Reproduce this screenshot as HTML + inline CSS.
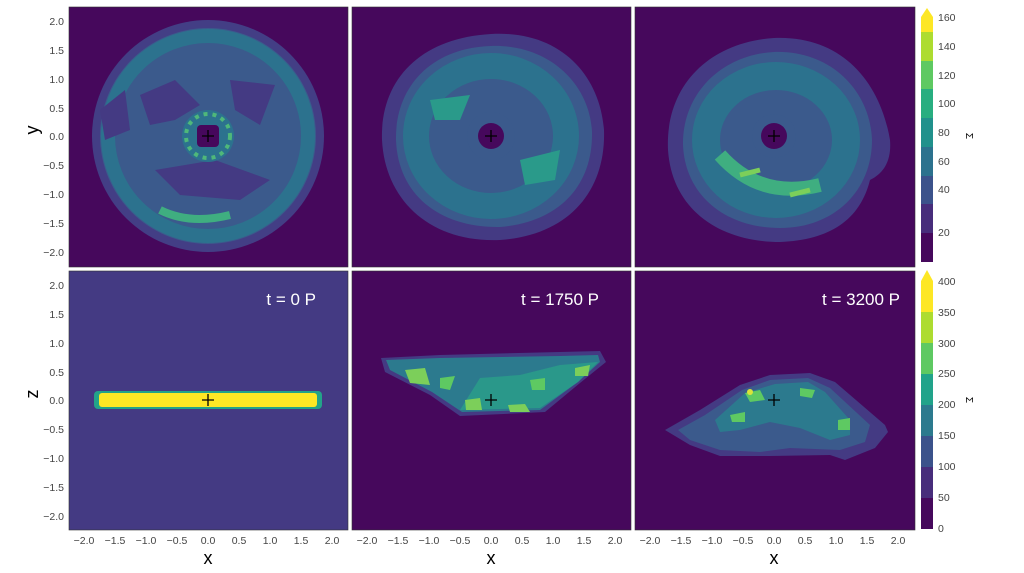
<!DOCTYPE html>
<html><head><meta charset="utf-8"><style>
html,body{margin:0;padding:0;background:#fff;width:1024px;height:573px;overflow:hidden}
svg{display:block}
text{font-family:"Liberation Sans",sans-serif}
.t{font-size:10.5px;fill:#444}
</style></head><body>
<svg width="1024" height="573" viewBox="0 0 1024 573">
<rect x="69" y="7" width="279" height="260" fill="#46085c"/>
<rect x="352" y="7" width="279" height="260" fill="#46085c"/>
<rect x="635" y="7" width="280" height="260" fill="#46085c"/>
<rect x="69" y="271" width="279" height="259" fill="#443a83"/>
<rect x="352" y="271" width="279" height="259" fill="#46085c"/>
<rect x="635" y="271" width="280" height="259" fill="#46085c"/>

<!-- top 1 -->
<circle cx="208" cy="136" r="116" fill="#433e85"/>
<circle cx="208" cy="136" r="108" fill="#3b5a8c"/>
<circle cx="208" cy="136" r="100" fill="none" stroke="#2c728e" stroke-width="14"/>
<path d="M140 95 L175 80 L200 105 L175 120 L150 125 Z M230 80 L275 85 L260 125 L235 110 Z M155 170 L215 160 L270 180 L240 200 L180 195 Z M100 110 L125 90 L130 130 L105 140 Z" fill="#443a83"/>
<circle cx="208" cy="136" r="26" fill="#2c728e"/>
<circle cx="208" cy="136" r="22" fill="none" stroke="#4fb87a" stroke-width="4" stroke-dasharray="4 5"/>
<rect x="197" y="125" width="22" height="22" rx="4" fill="#46085c"/>
<path d="M160 210 Q190 225 230 215" stroke="#3fae80" stroke-width="8" fill="none"/>

<!-- top 2 -->
<path d="M491 34 C560 30 600 75 604 130 C606 190 570 235 500 240 C430 243 385 200 382 140 C380 80 420 38 491 34 Z" fill="#443a83"/>
<path d="M491 46 C550 44 590 85 592 132 C593 185 560 222 500 227 C440 228 398 195 396 140 C395 88 430 48 491 46 Z" fill="#3b5a8c"/>
<ellipse cx="491" cy="136" rx="75" ry="70" fill="none" stroke="#2c728e" stroke-width="26"/>
<path d="M430 100 L470 95 L460 120 L435 120Z M520 160 L560 150 L555 180 L525 185Z" fill="#2a9a8a"/>
<circle cx="491" cy="136" r="24" fill="#3b5a8c"/>
<circle cx="491" cy="136" r="13" fill="#46085c"/>

<!-- top 3 -->
<path d="M774 38 C840 35 880 80 890 140 C892 165 880 175 870 180 C860 220 830 240 780 242 C720 242 672 210 668 150 C665 85 710 42 774 38 Z" fill="#443a83"/>
<path d="M774 52 C830 50 870 90 872 140 C872 190 835 228 780 228 C725 228 685 195 683 145 C682 95 720 55 774 52 Z" fill="#3b5a8c"/>
<ellipse cx="776" cy="140" rx="70" ry="64" fill="none" stroke="#2c728e" stroke-width="28"/>
<path d="M720 155 Q760 200 820 185" stroke="#3fae80" stroke-width="14" fill="none"/>
<path d="M740 175 L760 170 M790 195 L810 190" stroke="#7ccf5a" stroke-width="5"/>
<circle cx="774" cy="136" r="22" fill="#3b5a8c"/>
<circle cx="774" cy="136" r="13" fill="#46085c"/>

<!-- bottom 1 -->
<rect x="94" y="391" width="228" height="18" rx="4" fill="#23a389"/>
<rect x="99" y="393" width="218" height="14" rx="3" fill="#fde725"/>
<text x="316" y="305" font-size="17" fill="#fff" text-anchor="end">t = 0 P</text>

<!-- bottom 2 -->
<path d="M381 358 L440 355 L560 352 L600 351 L606 362 L580 383 L545 412 L460 416 L430 395 L385 372 Z" fill="#443a83"/>
<path d="M386 360 L440 358 L560 356 L598 355 L600 362 L578 382 L540 410 L462 412 L432 392 L390 370 Z" fill="#2c7a8e"/>
<path d="M460 410 L540 408 L578 382 L598 362 L560 365 L520 375 L480 378 Z" fill="#2aa08a" opacity=".8"/>
<path d="M405 370 L425 368 L430 385 L410 383Z M465 400 L480 398 L482 410 L466 410Z M508 405 L525 404 L530 412 L510 412Z M575 368 L590 365 L588 376 L575 376Z" fill="#7ccf5a"/>
<path d="M440 378 L455 376 L450 390 L440 388Z M530 380 L545 378 L545 390 L532 390Z" fill="#5ec962"/>
<text x="599" y="305" font-size="17" fill="#fff" text-anchor="end">t = 1750 P</text>

<!-- bottom 3 -->
<path d="M665 430 L700 410 L740 385 L770 375 L810 373 L835 382 L885 425 L888 432 L875 448 L845 460 L830 455 L770 456 L720 456 L690 445 Z" fill="#443a83"/>
<path d="M678 430 L705 415 L742 390 L770 380 L808 378 L830 388 L870 425 L865 442 L840 450 L790 448 L760 452 L720 450 L690 440 Z" fill="#3b5a8c"/>
<path d="M715 420 L745 393 L775 384 L808 382 L825 392 L850 420 L850 435 L830 440 L800 428 L770 422 L740 430 L720 432 Z" fill="#2c7a8e"/>
<path d="M745 393 L760 390 L765 400 L750 402Z M800 388 L815 390 L812 398 L800 396Z M838 420 L850 418 L850 430 L838 430Z M730 415 L745 412 L745 422 L732 422Z" fill="#5ec962"/>
<circle cx="750" cy="392" r="3" fill="#d9e33a"/>
<text x="900" y="305" font-size="17" fill="#fff" text-anchor="end">t = 3200 P</text>

<g stroke="#000" stroke-width="1.3">
<path d="M202 136h12M208 130v12"/><path d="M485 136h12M491 130v12"/><path d="M768 136h12M774 130v12"/>
<path d="M202 400h12M208 394v12"/><path d="M485 400h12M491 394v12"/><path d="M768 400h12M774 394v12"/>
</g>

<g fill="none" stroke="#333" stroke-width="0.6">
<rect x="69" y="7" width="279" height="260"/><rect x="352" y="7" width="279" height="260"/><rect x="635" y="7" width="280" height="260"/>
<rect x="69" y="271" width="279" height="259"/><rect x="352" y="271" width="279" height="259"/><rect x="635" y="271" width="280" height="259"/>
</g>

<g class="t" text-anchor="end">
<text x="64" y="25">2.0</text><text x="64" y="54">1.5</text><text x="64" y="83">1.0</text><text x="64" y="112">0.5</text><text x="64" y="140">0.0</text><text x="64" y="169">−0.5</text><text x="64" y="198">−1.0</text><text x="64" y="227">−1.5</text><text x="64" y="256">−2.0</text>
<text x="64" y="289">2.0</text><text x="64" y="318">1.5</text><text x="64" y="347">1.0</text><text x="64" y="376">0.5</text><text x="64" y="404">0.0</text><text x="64" y="433">−0.5</text><text x="64" y="462">−1.0</text><text x="64" y="491">−1.5</text><text x="64" y="520">−2.0</text>
</g>
<text x="40" y="140" font-size="18" transform="rotate(-90 34 136)" text-anchor="middle">y</text>
<text x="40" y="404" font-size="18" transform="rotate(-90 34 400)" text-anchor="middle">z</text>

<g class="t" text-anchor="middle">
<text x="84" y="544">−2.0</text><text x="115" y="544">−1.5</text><text x="146" y="544">−1.0</text><text x="177" y="544">−0.5</text><text x="208" y="544">0.0</text><text x="239" y="544">0.5</text><text x="270" y="544">1.0</text><text x="301" y="544">1.5</text><text x="332" y="544">2.0</text>
<text x="367" y="544">−2.0</text><text x="398" y="544">−1.5</text><text x="429" y="544">−1.0</text><text x="460" y="544">−0.5</text><text x="491" y="544">0.0</text><text x="522" y="544">0.5</text><text x="553" y="544">1.0</text><text x="584" y="544">1.5</text><text x="615" y="544">2.0</text>
<text x="650" y="544">−2.0</text><text x="681" y="544">−1.5</text><text x="712" y="544">−1.0</text><text x="743" y="544">−0.5</text><text x="774" y="544">0.0</text><text x="805" y="544">0.5</text><text x="836" y="544">1.0</text><text x="867" y="544">1.5</text><text x="898" y="544">2.0</text>
</g>
<g font-size="18" text-anchor="middle"><text x="208" y="564">x</text><text x="491" y="564">x</text><text x="774" y="564">x</text></g>

<g>
<path d="M921 17 L927 8 L933 17 Z" fill="#fde725"/>
<rect x="921" y="17" width="12" height="15" fill="#fde725"/>
<rect x="921" y="32" width="12" height="29" fill="#addc30"/>
<rect x="921" y="61" width="12" height="28" fill="#5ec962"/>
<rect x="921" y="89" width="12" height="29" fill="#28ae80"/>
<rect x="921" y="118" width="12" height="29" fill="#21918c"/>
<rect x="921" y="147" width="12" height="29" fill="#2c728e"/>
<rect x="921" y="176" width="12" height="28" fill="#3b528b"/>
<rect x="921" y="204" width="12" height="29" fill="#472d7b"/>
<rect x="921" y="233" width="12" height="29" fill="#46085c"/>
</g>
<g class="t" font-size="9.5"><text x="938" y="21">160</text><text x="938" y="50">140</text><text x="938" y="79">120</text><text x="938" y="107">100</text><text x="938" y="136">80</text><text x="938" y="165">60</text><text x="938" y="193">40</text><text x="938" y="236">20</text></g>
<text x="966" y="136" font-size="10" transform="rotate(90 966 136)" text-anchor="middle">Σ</text>

<g>
<path d="M921 281 L927 270 L933 281 Z" fill="#fde725"/>
<rect x="921" y="281" width="12" height="31" fill="#fde725"/>
<rect x="921" y="312" width="12" height="31" fill="#addc30"/>
<rect x="921" y="343" width="12" height="31" fill="#5ec962"/>
<rect x="921" y="374" width="12" height="31" fill="#21a38a"/>
<rect x="921" y="405" width="12" height="31" fill="#2c7a8e"/>
<rect x="921" y="436" width="12" height="31" fill="#3b528b"/>
<rect x="921" y="467" width="12" height="31" fill="#472d7b"/>
<rect x="921" y="498" width="12" height="31" fill="#46085c"/>
</g>
<g class="t" font-size="9.5"><text x="938" y="285">400</text><text x="938" y="316">350</text><text x="938" y="347">300</text><text x="938" y="377">250</text><text x="938" y="408">200</text><text x="938" y="439">150</text><text x="938" y="470">100</text><text x="938" y="501">50</text><text x="938" y="532">0</text></g>
<text x="966" y="400" font-size="10" transform="rotate(90 966 400)" text-anchor="middle">Σ</text>
</svg>
</body></html>
